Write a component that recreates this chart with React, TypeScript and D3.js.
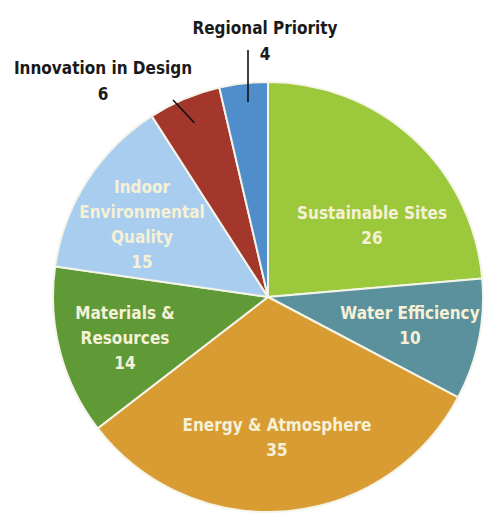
import React from "react";
import * as d3 from "d3";

const categories = [
  "Sustainable Sites",
  "Water Efficiency",
  "Energy & Atmosphere",
  "Materials & Resources",
  "Indoor Environmental Quality",
  "Innovation in Design",
  "Regional Priority",
];
const values = [26, 10, 35, 14, 15, 6, 4];
const colors = ["#9cc83c", "#5b919c", "#d99c33", "#5f9a37", "#a9cdee", "#a4372c", "#4f8dcb"];

// label layout (lines + anchor), separate from data
const labelLines: string[][] = [
  ["Sustainable Sites", "26"],
  ["Water Efficiency", "10"],
  ["Energy & Atmosphere", "35"],
  ["Materials &", "Resources", "14"],
  ["Indoor", "Environmental", "Quality", "15"],
  ["Innovation in Design", "6"],
  ["Regional Priority", "4"],
];
const labelAnchors: [number, number][] = [
  [372, 213],
  [410, 313],
  [277, 425],
  [125, 313],
  [142, 187],
  [103, 68],
  [265, 28],
];
const outside = [false, false, false, false, false, true, true];

const W = 484, H = 515;
const cx = 268, cy = 297, R = 215;
const LH = 25;

export default function App() {
  const pie = d3.pie<number>().sort(null).value((d) => d);
  const arcs = pie(values);
  const arc = d3.arc<d3.PieArcDatum<number>>().innerRadius(0).outerRadius(R);

  return (
    <svg width={W} height={H} style={{ position: "absolute", left: 0, top: 0, background: "#fff" }}>
      <g transform={`translate(${cx},${cy})`}>
        {arcs.map((a, i) => (
          <path key={categories[i]} d={arc(a) || ""} fill={colors[i]} stroke="#f4f4e8" strokeWidth={2} />
        ))}
      </g>
      {arcs.map((a, i) => {
        if (!outside[i]) return null;
        const mid = (a.startAngle + a.endAngle) / 2;
        const r = R * 0.88;
        const x2 = i === 6 ? 248 : cx + r * Math.sin(mid);
        const y2 = i === 6 ? 102 : cy - r * Math.cos(mid);
        const x1 = i === 6 ? 248 : 173;
        const y1 = i === 6 ? 50 : 100;
        return <line key={"l" + i} x1={x1} y1={y1} x2={x2} y2={y2} stroke="#111" strokeWidth={1.6} />;
      })}
      {labelLines.map((lines, i) => (
        <text
          key={"t" + i}
          x={labelAnchors[i][0]}
          y={labelAnchors[i][1]}
          textAnchor="middle"
          fontFamily="'DejaVu Sans Condensed', 'DejaVu Sans', sans-serif"
          fontWeight="bold"
          fontSize={17}
          fill={outside[i] ? "#1a1a1a" : "#f6f1d6"}
          dominantBaseline="central"
        >
          {lines.map((ln, j) => (
            <tspan key={j} x={labelAnchors[i][0]} dy={j === 0 ? 0 : outside[i] ? 26 : LH}>
              {ln}
            </tspan>
          ))}
        </text>
      ))}
    </svg>
  );
}
